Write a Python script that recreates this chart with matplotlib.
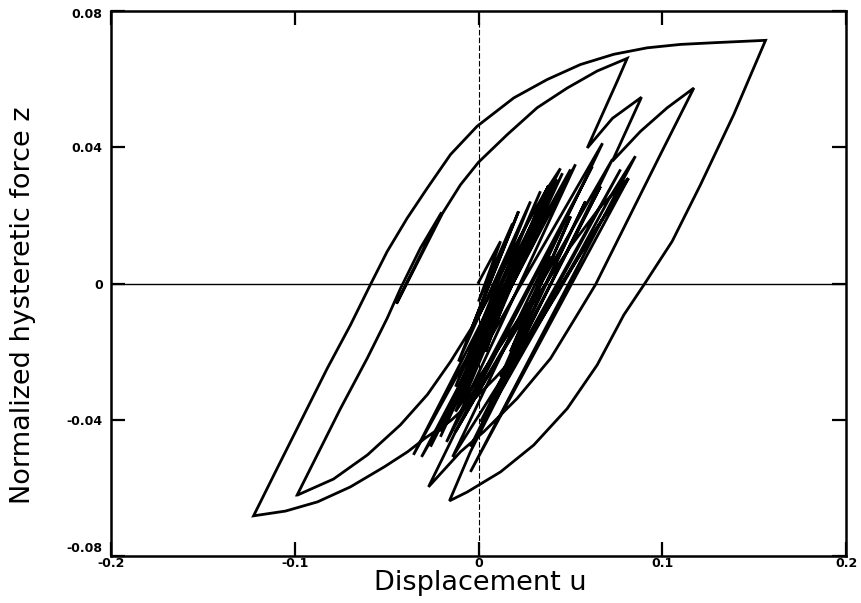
import numpy as np
import matplotlib
matplotlib.use("Agg")
import matplotlib.pyplot as plt
from matplotlib.transforms import ScaledTranslation

plt.rcParams["axes.unicode_minus"] = False

# axis ticks
x_ticks = [-0.2, -0.1, 0.0, 0.1, 0.2]
x_tick_labels = ["-0.2", "-0.1", "0", "0.1", "0.2"]
y_ticks = [-0.08, -0.04, 0.0, 0.04, 0.08]
y_tick_labels = ["-0.08", "-0.04", "0", "0.04", "0.08"]

# small cycles at the start of the record
early_u = [0.0000, 0.0120, 0.0000, 0.0185, -0.0044, 0.0218, -0.0109, 0.0283,
           -0.0125, 0.0337, -0.0152, 0.0381, -0.0174, 0.0424, -0.0207, 0.0457,
           -0.0261, 0.0501, -0.0354, 0.0446]
early_z = [0.0003, 0.0124, -0.0053, 0.0176, -0.0141, 0.0212, -0.0229, 0.0241,
           -0.0303, 0.0271, -0.0362, 0.0288, -0.0406, 0.0306, -0.0450, 0.0324,
           -0.0479, 0.0335, -0.0503, 0.0338]

# unloading down to the second largest negative excursion
down2_u = [0.0446, 0.0365, 0.0272, 0.0174, 0.0065, -0.0027, -0.0152, -0.0278,
           -0.0425, -0.0604, -0.0789, -0.0985]
down2_z = [0.0338, 0.0271, 0.0182, 0.0085, -0.0032, -0.0121, -0.0229, -0.0326,
           -0.0415, -0.0503, -0.0574, -0.0621]

# reloading from -0.099 up to 0.081 (with a short reversal on the way)
up2_u = [-0.0987, -0.0878, -0.0751, -0.0606, -0.0497, -0.0424, -0.0316, -0.0201,
         -0.0446, -0.0196, -0.0098, 0.0000, 0.0156, 0.0319, 0.0483, 0.0646, 0.0809]
up2_z = [-0.0621, -0.0504, -0.0367, -0.0220, -0.0102, -0.0014, 0.0104, 0.0209,
         -0.0059, 0.0206, 0.0290, 0.0356, 0.0437, 0.0516, 0.0574, 0.0624, 0.0661]

# double peak near the top right
peaks_u = [0.0809, 0.0755, 0.0664, 0.0592, 0.0729, 0.0887, 0.0728, 0.0882, 0.1027, 0.1172]
peaks_z = [0.0661, 0.0594, 0.0485, 0.0398, 0.0485, 0.0547, 0.0359, 0.0447, 0.0516, 0.0574]

# unloading from 0.117
down3_u = [0.1172, 0.0990, 0.0773, 0.0637, 0.0537, 0.0392, 0.0211, 0.0029, -0.0098, -0.0272]
down3_z = [0.0574, 0.0379, 0.0144, -0.0003, -0.0092, -0.0220, -0.0337, -0.0435, -0.0494, -0.0597]

# reload, then the long unloading to the largest negative excursion
up3_u = [-0.0272, -0.0125, 0.0065, 0.0283, 0.0501, 0.0664, 0.0816]
up3_z = [-0.0597, -0.0435, -0.0259, -0.0068, 0.0109, 0.0226, 0.0309]
down1_u = [0.0816, 0.0691, 0.0555, 0.0435, 0.0327, 0.0218, 0.0093, -0.0033,
           -0.0152, -0.0288, -0.0386, -0.0512, -0.0697, -0.0876, -0.1050, -0.1224]
down1_z = [0.0309, 0.0203, 0.0088, -0.0024, -0.0118, -0.0200, -0.0276, -0.0344,
           -0.0403, -0.0453, -0.0494, -0.0538, -0.0597, -0.0641, -0.0668, -0.0682]

# largest cycle: -0.122 up to 0.156 and back
up1_u = [-0.1224, -0.1096, -0.0969, -0.0823, -0.0697, -0.0588, -0.0497, -0.0388,
         -0.0279, -0.0152, -0.0007, 0.0192, 0.0374, 0.0555, 0.0736, 0.0918,
         0.1099, 0.1281, 0.1562]
up1_z = [-0.0682, -0.0543, -0.0406, -0.0249, -0.0122, -0.0003, 0.0094, 0.0192,
         0.0280, 0.0379, 0.0462, 0.0545, 0.0599, 0.0643, 0.0673, 0.0692,
         0.0702, 0.0707, 0.0714]
back1_u = [0.1562, 0.1389, 0.1208, 0.1054, 0.0900, 0.0791, 0.0646, 0.0483,
           0.0301, 0.0120, -0.0061, -0.0158]
back1_z = [0.0714, 0.0496, 0.0290, 0.0124, -0.0004, -0.0092, -0.0239, -0.0367,
           -0.0474, -0.0553, -0.0612, -0.0638]

# decaying cycles at the end of the record
late_u = [-0.0158, -0.0044, 0.0120, 0.0337, 0.0555, 0.0718, 0.0854,
          -0.0044, 0.0816, -0.0141, 0.0675, -0.0310, 0.0528, -0.0174,
          0.0620, -0.0125, 0.0729, -0.0044, 0.0773, 0.0011, 0.0664,
          0.0065, 0.0582, 0.0120, 0.0501, 0.0174, 0.0392, 0.0283,
          -0.0125, 0.0365, -0.0207, 0.0403, -0.0087, 0.0310, -0.0044,
          0.0256, 0.0038, 0.0201]
late_z = [-0.0638, -0.0494, -0.0318, -0.0112, 0.0094, 0.0256, 0.0374,
          -0.0553, 0.0309, -0.0509, 0.0412, -0.0509, 0.0350, -0.0465,
          0.0344, -0.0435, 0.0365, -0.0479, 0.0335, -0.0406, 0.0285,
          -0.0347, 0.0241, -0.0274, 0.0197, -0.0200, 0.0079, -0.0053,
          -0.0376, 0.0256, -0.0435, 0.0276, -0.0347, 0.0197, -0.0288,
          0.0124, -0.0200, 0.0035]

branches = [
    (early_u, early_z), (down2_u, down2_z), (up2_u, up2_z), (peaks_u, peaks_z),
    (down3_u, down3_z), (up3_u, up3_z), (down1_u, down1_z), (up1_u, up1_z),
    (back1_u, back1_z), (late_u, late_z),
]
u = np.concatenate([np.asarray(b[0]) for b in branches])
z = np.concatenate([np.asarray(b[1]) for b in branches])

fig = plt.figure(figsize=(8.61, 6.03), dpi=100)
ax = fig.add_axes([0.1289, 0.0779, 0.8537, 0.9038])

ax.axhline(0, color="black", lw=1.0, zorder=1)
ax.axvline(0, color="black", lw=0.8, ls=(0, (5, 2)), zorder=1)

ax.plot(u, z, color="black", lw=2.0, solid_joinstyle="miter", zorder=3)

ax.set_xlim(-0.2, 0.2)
ax.set_ylim(-0.08, 0.08)
ax.set_xticks(x_ticks)
ax.set_xticklabels(x_tick_labels)
ax.set_yticks(y_ticks)
ax.set_yticklabels(y_tick_labels)

for lab in ax.get_xticklabels() + ax.get_yticklabels():
    lab.set_fontfamily("DejaVu Sans")
    lab.set_fontweight("bold")
    lab.set_fontsize(9)

ax.tick_params(direction="in", length=10, width=1.6, top=True, right=True)
ax.tick_params(axis="x", pad=1)
ax.tick_params(axis="y", pad=6)
for side in ax.spines.values():
    side.set_linewidth(1.8)

# lift the bottom y label clear of the x labels
ylabs = ax.get_yticklabels()
ylabs[0].set_transform(ylabs[0].get_transform()
                       + ScaledTranslation(0, 0.09, fig.dpi_scale_trans))
ylabs[-1].set_transform(ylabs[-1].get_transform()
                        + ScaledTranslation(0, -0.02, fig.dpi_scale_trans))

ax.set_xlabel("Displacement u", fontsize=19.5, family="DejaVu Sans")
ax.set_ylabel("Normalized hysteretic force z", fontsize=19.5, family="DejaVu Sans")
ax.xaxis.set_label_coords(0.502, -0.026)
ax.yaxis.set_label_coords(-0.102, 0.46)

fig.savefig("out.png", dpi=100)
